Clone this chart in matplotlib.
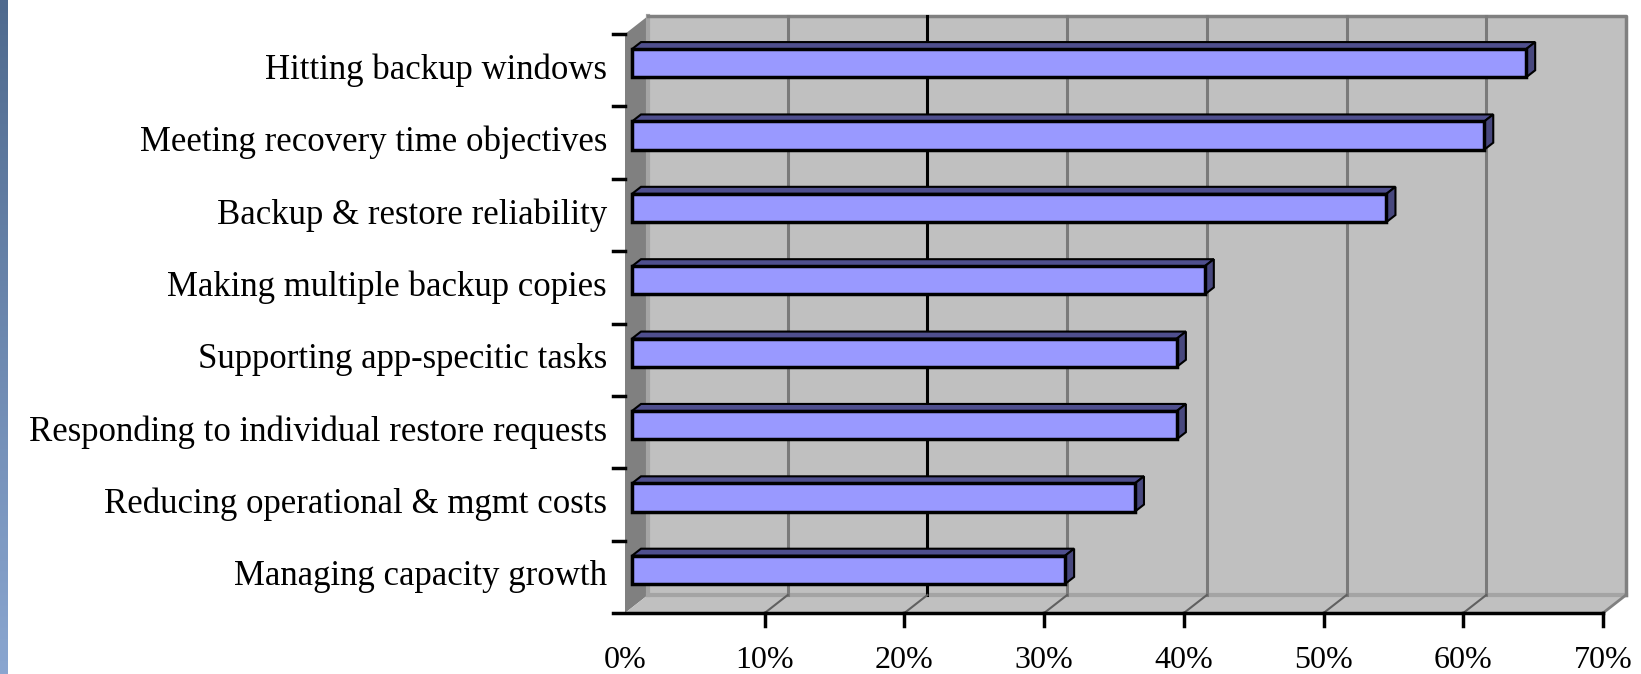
import numpy as np
import matplotlib
matplotlib.use("Agg")
import matplotlib.pyplot as plt
from matplotlib.patches import Polygon, Rectangle

# data
categories = [
    "Hitting backup windows",
    "Meeting recovery time objectives",
    "Backup & restore reliability",
    "Making multiple backup copies",
    "Supporting app-specitic tasks",
    "Responding to individual restore requests",
    "Reducing operational & mgmt costs",
    "Managing capacity growth",
]
values = [64, 61, 54, 41, 39, 39, 36, 31]
xticks = [0, 10, 20, 30, 40, 50, 60, 70]
xtick_labels = ["0%", "10%", "20%", "30%", "40%", "50%", "60%", "70%"]

W, H, DPI = 1641, 674, 100
fig = plt.figure(figsize=(W / DPI, H / DPI), dpi=DPI)
fig.patch.set_facecolor("white")

# blue slide strip on the far left
strip = fig.add_axes([0, 0, 8 / W, 1])
grad = np.linspace(0, 1, 256).reshape(-1, 1)
from matplotlib.colors import LinearSegmentedColormap
cm = LinearSegmentedColormap.from_list("strip", ["#4f6a8e", "#8aa6d0"])
strip.imshow(grad, aspect="auto", cmap=cm)
strip.axis("off")

# main axes = front plane of the 3d box
ax_l, ax_r, ax_t, ax_b = 625, 1603, 34, 613
ax = fig.add_axes([ax_l / W, 1 - ax_b / H, (ax_r - ax_l) / W, (ax_b - ax_t) / H])
n = len(categories)
ax.set_xlim(0, 70)
ax.set_ylim(-0.5, n - 0.5)
ax.axis("off")

px_x = (ax_r - ax_l) / 70.0
px_y = (ax_b - ax_t) / float(n)
def px(dx, dy):
    return dx / px_x, dy / px_y

DX, DY = px(23, 18)      # wall depth
SX, SY = px(7, 7)        # bar plane shift
BX, BY = px(9, 7)        # bar depth
y0, y1 = -0.5, n - 0.5

# walls
ax.add_patch(Polygon([(0, y0), (DX, y0 + DY), (DX, y1 + DY), (0, y1)],
                     closed=True, fc="#808080", ec="none", clip_on=False, zorder=1))
ax.add_patch(Rectangle((DX, y0 + DY), 70, n, fc="#c0c0c0", ec="none", clip_on=False, zorder=1))
ax.add_patch(Polygon([(0, y0), (70, y0), (70 + DX, y0 + DY), (DX, y0 + DY)],
                     closed=True, fc="#c0c0c0", ec="none", clip_on=False, zorder=1))
ax.plot([DX, DX], [y0 + DY, y1 + DY], color="#a4a4a4", lw=3, clip_on=False, zorder=2)
ax.plot([DX, 70 + DX], [y0 + DY, y0 + DY], color="#a4a4a4", lw=3, clip_on=False, zorder=2)
ax.plot([DX, 70 + DX, 70 + DX], [y1 + DY, y1 + DY, y0 + DY], color="#808080", lw=2.5,
        clip_on=False, zorder=2)
ax.plot([70, 70 + DX], [y0, y0 + DY], color="#808080", lw=2, clip_on=False, zorder=2)

# gridlines on back wall + floor diagonals
for x in xticks[1:-1]:
    c = "#000000" if x == 20 else "#7a7a7a"
    ax.plot([x + DX, x + DX], [y0 + DY, y1 + DY], color=c, lw=2.2, clip_on=False, zorder=2)
    ax.plot([x, x + DX], [y0, y0 + DY], color="#606060", lw=1.5, clip_on=False, zorder=2)

# bars
ypos = np.arange(n)[::-1]
bh = 0.39
for y, v in zip(ypos, values):
    yb = y - bh / 2 + SY
    yt = y + bh / 2 + SY
    xl, xr = SX, v + SX
    # top face
    ax.add_patch(Polygon([(xl, yt), (xr, yt), (xr + BX, yt + BY), (xl + BX, yt + BY)],
                         closed=True, fc="#4f4f8e", ec="black", lw=1.5, clip_on=False, zorder=3))
    # side face
    ax.add_patch(Polygon([(xr, yb), (xr + BX, yb + BY), (xr + BX, yt + BY), (xr, yt)],
                         closed=True, fc="#48487e", ec="black", lw=1.5, clip_on=False, zorder=3))
ax.barh(ypos + SY, [v for v in values], left=SX, height=bh, color="#9999ff",
        edgecolor="black", linewidth=2.5, zorder=4, clip_on=False)

# front axis and ticks
tx, _ = px(12, 0)
_, ty = px(0, 13)
ax.plot([-tx, 70], [y0, y0], color="black", lw=2.5, clip_on=False, zorder=5)
for x in xticks[1:]:
    ax.plot([x, x], [y0, y0 - ty], color="black", lw=2.5, clip_on=False, zorder=5)
for b in np.arange(n) + 0.5:
    ax.plot([-tx, 0], [b, b], color="black", lw=2.5, clip_on=False, zorder=5)

# labels
lx, _ = px(-18, 0)
for y, lab in zip(ypos, categories):
    ax.text(lx, y, lab, ha="right", va="center", fontsize=25,
            family="Liberation Serif", color="black", clip_on=False)
_, ly = px(0, 48)
for x, lab in zip(xticks, xtick_labels):
    ax.text(x, y0 - ly, lab, ha="center", va="center", fontsize=23,
            family="Liberation Serif", color="black", clip_on=False)

fig.savefig("out.png", dpi=DPI)
